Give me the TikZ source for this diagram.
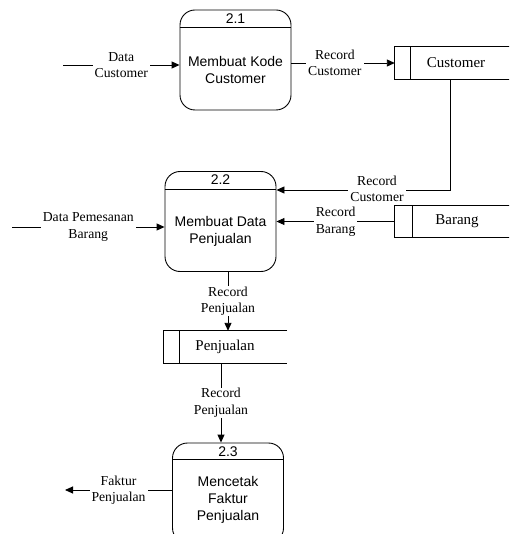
\documentclass[tikz,border=0pt]{standalone}
\usepackage{fontspec}
\setmainfont{Liberation Serif}
\newfontfamily\procfont{Liberation Sans}
\usetikzlibrary{arrows.meta}
\tikzset{
  proc/.style={draw, line width=0.9pt, rounded corners=15pt, minimum width=111pt,
    minimum height=100pt, inner sep=0pt},
  procid/.style={font=\procfont\fontsize{14}{16}\selectfont, inner sep=0pt},
  proctext/.style={font=\procfont\fontsize{14}{17}\selectfont, align=center, inner sep=0pt},
  storebox/.style={minimum height=32pt, inner sep=0pt},
  storeline/.style={line width=0.9pt},
  storetext/.style={font=\fontsize{15}{17}\selectfont, inner sep=0pt},
  flow/.style={line width=0.9pt, -{Triangle[length=8pt,width=7pt]}},
  rule/.style={line width=0.9pt},
  lbl/.style={fill=white, font=\fontsize{13.7}{16.5}\selectfont, align=center,
    inner xsep=2pt, inner ysep=0.5pt},
}
\begin{document}
\begin{tikzpicture}[x=1pt,y=-1pt]
\clip (0,0) rectangle (509,534);
\fill[white] (0,0) rectangle (509,534);

% processes
\node[proc] (p1) at (235.5,60) {};
\draw[rule] ([yshift=-18pt]p1.north west) -- ([yshift=-18pt]p1.north east);
\node[procid] (p1id) at (235.5,19) {2.1};
\node[proctext] (p1t) at (235.5,70) {Membuat Kode\\Customer};

\node[proc] (p2) at (220.5,221.5) {};
\draw[rule] ([yshift=-18pt]p2.north west) -- ([yshift=-18pt]p2.north east);
\node[procid] (p2id) at (220.5,180) {2.2};
\node[proctext] (p2t) at (220.5,231) {Membuat Data\\Penjualan};

\node[proc] (p3) at (228,493) {};
\draw[rule] ([yshift=-17pt]p3.north west) -- ([yshift=-17pt]p3.north east);
\node[procid] (p3id) at (228,452) {2.3};
\node[proctext] (p3t) at (228,500) {Mencetak\\Faktur\\Penjualan};

% data stores (open on the right)
\node[storebox, minimum width=120pt] (s1) at (455,63) {};
\draw[storeline] (s1.north east) -- (s1.north west) -- (s1.south west) -- (s1.south east);
\draw[storeline] ([xshift=16pt]s1.north west) -- ([xshift=16pt]s1.south west);
\node[storetext] (s1t) at (456,63) {Customer};

\node[storebox, minimum width=120pt, minimum height=31pt] (s2) at (455,221.5) {};
\draw[storeline] (s2.north east) -- (s2.north west) -- (s2.south west) -- (s2.south east);
\draw[storeline] ([xshift=18pt]s2.north west) -- ([xshift=18pt]s2.south west);
\node[storetext] (s2t) at (457,221.5) {Barang};

\node[storebox, minimum width=123pt] (s3) at (225.5,347) {};
\draw[storeline] (s3.north east) -- (s3.north west) -- (s3.south west) -- (s3.south east);
\draw[storeline] ([xshift=16pt]s3.north west) -- ([xshift=16pt]s3.south west);
\node[storetext] (s3t) at (225,347) {Penjualan};

% helper points
\coordinate (dc) at (63,65);
\coordinate (dpb) at (12,227);
\coordinate (fp) at (65,490);
\coordinate (c1) at (450,190);
\coordinate (c6) at (228,0);
\coordinate (c7) at (221,0);

% flows
\draw[flow] (dc) -- node[lbl] (l1) {Data\\Customer} (dc -| p1.west);
\draw[flow] (p1.east |- s1.west) -- node[lbl, pos=0.42] (l2) {Record\\Customer} (s1.west);
\draw[flow] (s1.south -| c1) -- (c1) -- (c1 -| p2.east);
\node[lbl] (l3) at (377,189) {Record\\Customer};
\draw[flow] (s2.west) -- node[lbl] (l4) {Record\\Barang} (s2.west -| p2.east);
\draw[flow] (dpb) -- node[lbl] (l5) {Data Pemesanan\\Barang} (dpb -| p2.west);
\draw[flow] (p2.south -| c6) -- node[lbl] (l6) {Record\\Penjualan} (s3.north -| c6);
\draw[flow] (s3.south -| c7) -- node[lbl] (l7) {Record\\Penjualan} (p3.north -| c7);
\draw[flow] (p3.west |- fp) -- node[lbl] (l8) {Faktur\\Penjualan} (fp);
\end{tikzpicture}
\end{document}
